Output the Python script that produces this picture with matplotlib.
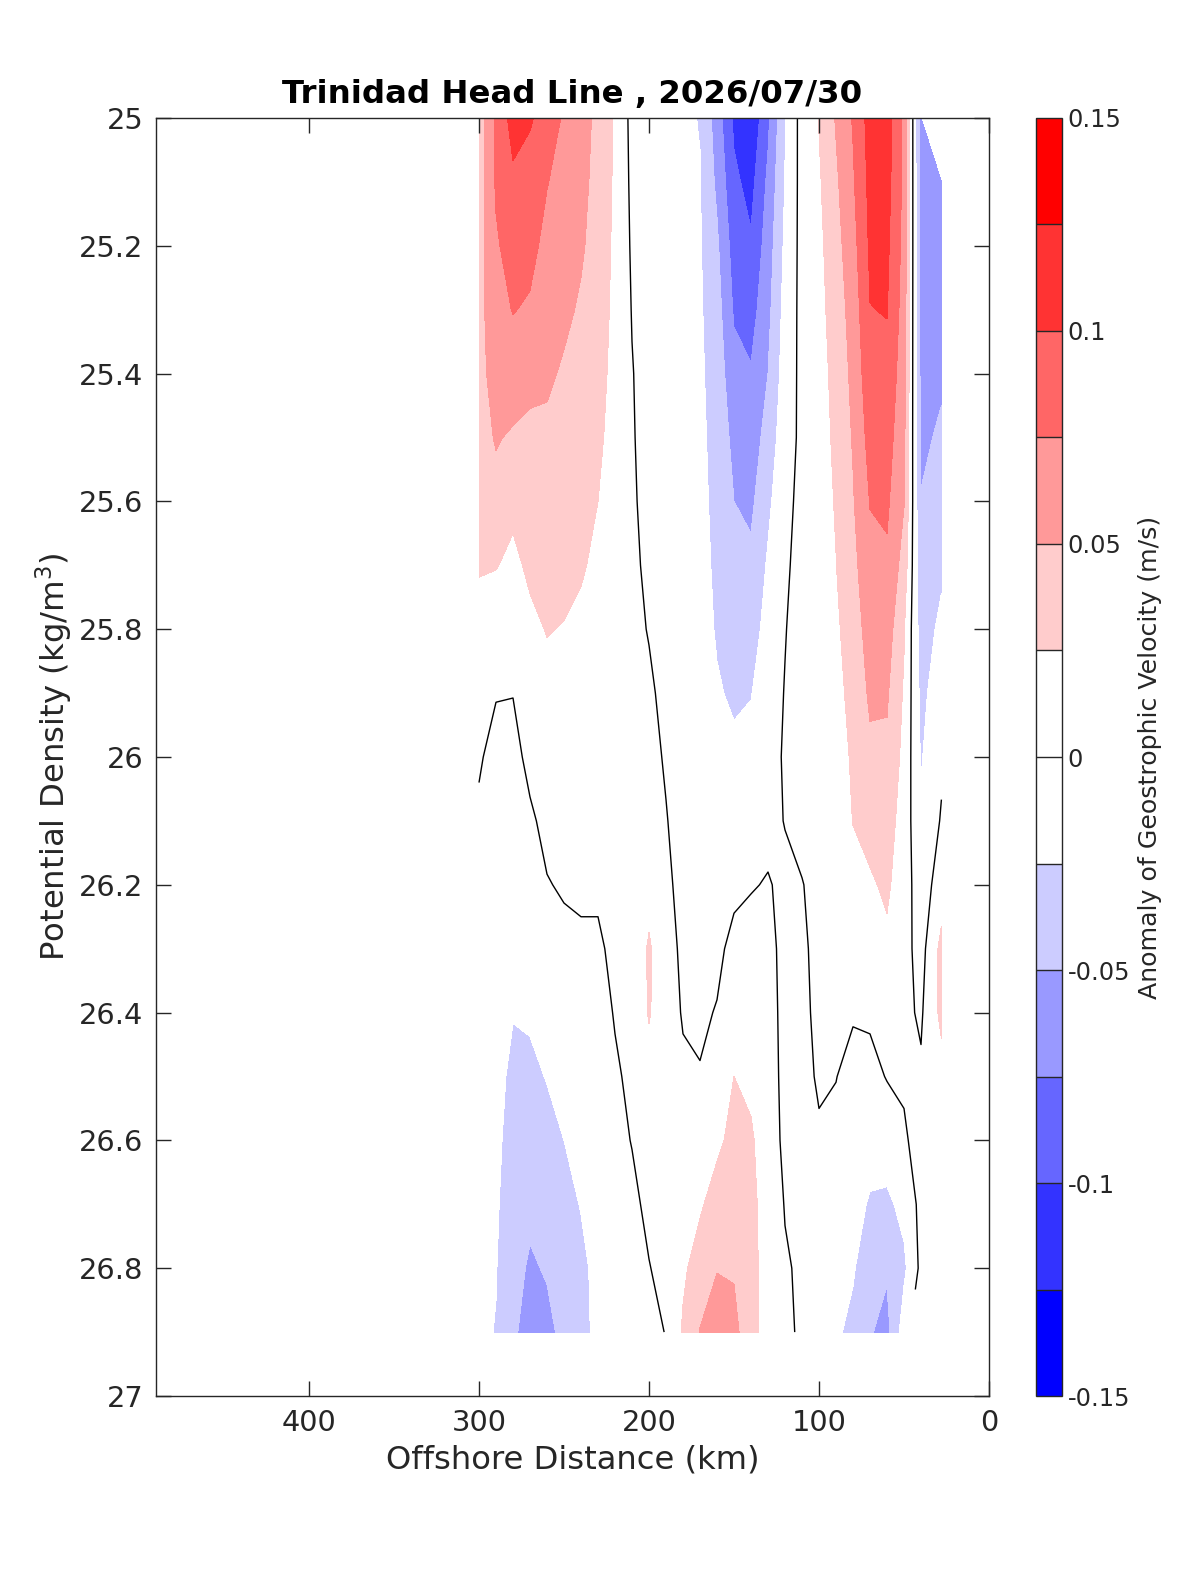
import numpy as np
import matplotlib
matplotlib.use("Agg")
import matplotlib.pyplot as plt
from matplotlib.ticker import FormatStrFormatter

plt.rcParams['font.family'] = ['DejaVu Sans']
plt.rcParams['axes.unicode_minus'] = False

nan = np.nan

# station offshore distance (km) and density surfaces (kg/m^3)
distance_km = [300, 290, 280, 270, 260, 250, 240, 230, 220, 210, 200, 190, 180, 170,
               160, 150, 140, 130, 120, 110, 100, 90, 80, 70, 60, 50, 40, 28]
sigma_theta = [25.0, 25.1, 25.2, 25.3, 25.4, 25.5, 25.6, 25.7, 25.8, 25.9,
               26.0, 26.1, 26.2, 26.3, 26.4, 26.5, 26.6, 26.7, 26.8, 26.9]

# geostrophic velocity anomaly (m/s) at each station, top to bottom
st_300 = [0.035, 0.038, 0.040, 0.042, 0.042, 0.040, 0.036, 0.028, 0.012, 0.006, 0.002, -0.003, -0.006, -0.009, -0.011, -0.013, -0.015, -0.016, -0.018, -0.020]
st_290 = [0.080, 0.078, 0.072, 0.066, 0.060, 0.052, 0.042, 0.026, 0.012, 0.001, -0.006, -0.010, -0.012, -0.014, -0.016, -0.018, -0.020, -0.022, -0.024, -0.026]
st_280 = [0.110, 0.095, 0.085, 0.076, 0.063, 0.047, 0.030, 0.020, 0.010, 0.0005, -0.006, -0.010, -0.014, -0.018, -0.024, -0.030, -0.034, -0.038, -0.042, -0.046]
st_270 = [0.102, 0.092, 0.082, 0.072, 0.056, 0.045, 0.036, 0.029, 0.020, 0.010, 0.005, -0.003, -0.010, -0.016, -0.022, -0.030, -0.038, -0.045, -0.053, -0.060]
st_260 = [0.092, 0.076, 0.068, 0.062, 0.054, 0.045, 0.038, 0.032, 0.026, 0.018, 0.011, 0.005, -0.001, -0.008, -0.015, -0.024, -0.032, -0.040, -0.048, -0.056]
st_250 = [0.071, 0.066, 0.061, 0.055, 0.047, 0.042, 0.036, 0.031, 0.024, 0.018, 0.012, 0.007, 0.002, -0.005, -0.012, -0.018, -0.025, -0.032, -0.038, -0.044]
st_240 = [0.058, 0.056, 0.053, 0.047, 0.042, 0.037, 0.032, 0.027, 0.021, 0.016, 0.011, 0.007, 0.003, -0.003, -0.009, -0.014, -0.019, -0.024, -0.030, -0.031]
st_230 = [0.045, 0.043, 0.040, 0.037, 0.033, 0.029, 0.025, 0.021, 0.017, 0.013, 0.009, 0.006, 0.002, -0.002, -0.006, -0.010, -0.013, -0.016, -0.019, -0.020]
st_220 = [0.022, 0.021, 0.020, 0.019, 0.018, 0.017, 0.015, 0.013, 0.012, 0.010, 0.009, 0.007, 0.005, 0.003, 0.001, -0.002, -0.004, -0.006, -0.008, -0.010]
st_210 = [-0.007, -0.005, -0.003, -0.001, 0.001, 0.002, 0.003, 0.004, 0.005, 0.006, 0.007, 0.008, 0.008, 0.007, 0.005, 0.003, 0.0005, -0.003, -0.005, -0.008]
st_200 = [-0.008, -0.009, -0.009, -0.009, -0.009, -0.009, -0.007, -0.004, -0.001, 0.003, 0.006, 0.010, 0.016, 0.028, 0.027, 0.015, 0.008, 0.003, -0.0005, -0.004]
st_190 = [-0.012, -0.013, -0.014, -0.014, -0.014, -0.013, -0.012, -0.010, -0.008, -0.005, -0.002, 0.001, 0.004, 0.008, 0.009, 0.009, 0.008, 0.006, 0.004, 0.0005]
st_180 = [-0.021, -0.022, -0.022, -0.022, -0.021, -0.020, -0.019, -0.017, -0.015, -0.012, -0.010, -0.008, -0.006, -0.004, -0.0015, 0.003, 0.008, 0.014, 0.021, 0.028]
st_170 = [-0.026, -0.024, -0.023, -0.022, -0.021, -0.020, -0.019, -0.018, -0.016, -0.014, -0.012, -0.010, -0.008, -0.005, -0.003, 0.001, 0.010, 0.022, 0.036, 0.051]
st_160 = [-0.062, -0.055, -0.046, -0.040, -0.036, -0.033, -0.031, -0.029, -0.027, -0.023, -0.018, -0.013, -0.008, -0.004, 0.001, 0.008, 0.020, 0.035, 0.049, 0.062]
st_150 = [-0.105, -0.095, -0.086, -0.078, -0.067, -0.057, -0.050, -0.042, -0.035, -0.028, -0.021, -0.013, -0.004, 0.005, 0.015, 0.025, 0.032, 0.040, 0.048, 0.056]
st_140 = [-0.120, -0.108, -0.097, -0.085, -0.073, -0.064, -0.055, -0.045, -0.036, -0.026, -0.017, -0.009, -0.001, 0.006, 0.013, 0.020, 0.028, 0.032, 0.034, 0.036]
st_130 = [-0.080, -0.070, -0.063, -0.057, -0.050, -0.040, -0.030, -0.022, -0.016, -0.011, -0.007, -0.004, 0.001, 0.005, 0.008, 0.010, 0.012, 0.013, 0.013, 0.012]
st_120 = [-0.027, -0.024, -0.020, -0.016, -0.013, -0.010, -0.007, -0.004, -0.001, 0.001, 0.002, 0.0005, -0.003, -0.005, -0.006, -0.006, -0.005, -0.001, 0.002, 0.004]
st_110 = [0.010, 0.009, 0.008, 0.007, 0.006, 0.005, 0.007, 0.009, 0.010, 0.010, 0.008, 0.004, -0.0005, -0.003, -0.004, -0.005, -0.005, -0.004, -0.003, -0.003]
st_100 = [0.026, 0.022, 0.019, 0.017, 0.015, 0.014, 0.013, 0.012, 0.011, 0.010, 0.008, 0.006, 0.004, 0.005, 0.004, 0.002, -0.002, -0.006, -0.010, -0.013]
st_90 = [0.052, 0.046, 0.041, 0.037, 0.033, 0.030, 0.027, 0.0245, 0.021, 0.018, 0.015, 0.012, 0.009, 0.006, 0.003, 0.0005, -0.005, -0.011, -0.017, -0.022]
st_80 = [0.077, 0.072, 0.066, 0.060, 0.056, 0.052, 0.048, 0.043, 0.037, 0.032, 0.028, 0.0255, 0.018, 0.010, 0.002, -0.007, -0.013, -0.018, -0.023, -0.030]
st_70 = [0.110, 0.107, 0.104, 0.0995, 0.092, 0.084, 0.076, 0.068, 0.061, 0.054, 0.045, 0.033, 0.022, 0.012, 0.003, -0.006, -0.017, -0.027, -0.038, -0.048]
st_60 = [0.112, 0.109, 0.105, 0.101, 0.094, 0.086, 0.079, 0.071, 0.062, 0.053, 0.045, 0.036, 0.029, 0.020, 0.009, 0.001, -0.012, -0.030, -0.047, -0.058]
st_50 = [0.070, 0.069, 0.067, 0.064, 0.060, 0.056, 0.051, 0.040, 0.027, 0.022, 0.018, 0.014, 0.011, 0.008, 0.005, 0.002, -0.002, -0.018, -0.030, -0.012]
st_40 = [-0.065, -0.064, -0.062, -0.060, -0.057, -0.054, -0.049, -0.042, -0.036, -0.031, -0.027, -0.021, -0.013, -0.009, -0.003, 0.003, 0.006, 0.007, 0.006, nan]
st_28 = [nan, -0.062, -0.060, -0.057, -0.053, -0.047, -0.038, -0.029, -0.020, -0.012, -0.004, 0.002, 0.012, 0.032, 0.031, 0.016, 0.010, 0.007, 0.005, nan]

profiles = [st_300, st_290, st_280, st_270, st_260, st_250, st_240, st_230, st_220, st_210,
            st_200, st_190, st_180, st_170, st_160, st_150, st_140, st_130, st_120, st_110,
            st_100, st_90, st_80, st_70, st_60, st_50, st_40, st_28]

levels = np.linspace(-0.15, 0.15, 13)
level_colors = ['#0000ff', '#3333ff', '#6666ff', '#9999ff', '#ccccff', '#ffffff',
                '#ffffff', '#ffcccc', '#ff9999', '#ff6666', '#ff3333', '#ff0000']
cbar_ticks = [-0.15, -0.1, -0.05, 0, 0.05, 0.1, 0.15]

Z = np.ma.masked_invalid(np.array(profiles, dtype=float).T)
X, Y = np.meshgrid(distance_km, sigma_theta)

dark = '#262626'
fig = plt.figure(figsize=(12, 15.75), dpi=100)
ax = fig.add_axes([0.13, 0.11365, 0.69417, 0.81143])
cax = fig.add_axes([0.86333, 0.11365, 0.021667, 0.81143])

cf = ax.contourf(X, Y, Z, levels=levels, colors=level_colors)
ax.contour(X, Y, Z, levels=[0], colors='k', linewidths=1.0)

ax.set_xlim(490, 0)
ax.set_ylim(27, 25)
ax.set_xticks([400, 300, 200, 100, 0])
ax.set_yticks(np.linspace(25, 27, 11))
ax.yaxis.set_major_formatter(FormatStrFormatter('%g'))
ax.tick_params(direction='in', top=True, right=True, length=11, width=1,
               labelsize=20.8, colors=dark, pad=9)
for sp in ax.spines.values():
    sp.set_color(dark)
    sp.set_linewidth(1.0)

ax.set_title('Trinidad Head Line , 2026/07/30', fontsize=23.3, fontweight='bold', pad=11)
ax.set_xlabel('Offshore Distance (km)', fontsize=23.2, color=dark, labelpad=6)
ax.set_ylabel('Potential Density (kg/m$^3$)', fontsize=23.3, color=dark, labelpad=3)

cb = fig.colorbar(cf, cax=cax, ticks=cbar_ticks, drawedges=True)
cb.ax.yaxis.set_major_formatter(FormatStrFormatter('%g'))
cb.ax.tick_params(length=0, labelsize=17.4, colors=dark, pad=4)
cb.outline.set_edgecolor(dark)
cb.outline.set_linewidth(1.0)
cb.dividers.set_color(dark)
cb.dividers.set_linewidth(1.0)
cb.set_label('Anomaly of Geostrophic Velocity (m/s)', fontsize=18.2, color=dark, labelpad=6)

fig.savefig('out.png', dpi=100)
